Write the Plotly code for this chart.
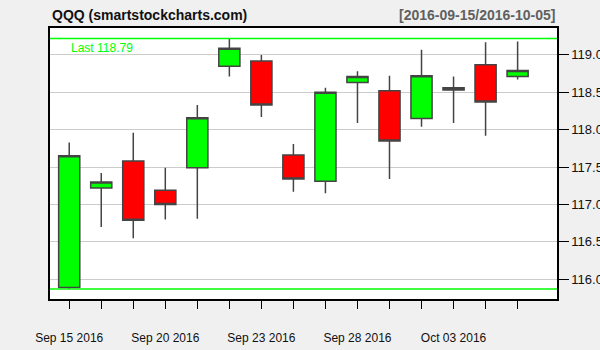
import plotly.graph_objects as go

dates = ["2016-09-15", "2016-09-16", "2016-09-19", "2016-09-20", "2016-09-21",
         "2016-09-22", "2016-09-23", "2016-09-26", "2016-09-27", "2016-09-28",
         "2016-09-29", "2016-09-30", "2016-10-03", "2016-10-04", "2016-10-05"]
open_ = [115.89, 117.22, 117.58, 117.19, 117.49, 118.85, 118.92, 117.66, 117.31, 118.63,
         118.52, 118.15, 118.53, 118.87, 118.71]
high = [117.83, 117.42, 117.96, 117.49, 118.33, 119.22, 119.00, 117.81, 118.56, 118.78,
        118.72, 119.07, 118.71, 119.17, 119.18]
low = [115.87, 116.70, 116.55, 116.80, 116.81, 118.71, 118.17, 117.17, 117.15, 118.09,
       117.34, 118.04, 118.09, 117.92, 118.67]
close = [117.65, 117.30, 116.79, 117.00, 118.16, 119.09, 118.33, 117.34, 118.50, 118.71,
         117.85, 118.72, 118.56, 118.37, 118.79]
tick_labels = ["Sep 15 2016", "", "", "Sep 20 2016", "", "", "Sep 23 2016", "", "",
               "Sep 28 2016", "", "", "Oct 03 2016", "", ""]
y_ticks = [116.0, 116.5, 117.0, 117.5, 118.0, 118.5, 119.0]

title_left = "QQQ (smartstockcharts.com)"
title_right = "[2016-09-15/2016-10-05]"

xs = list(range(len(dates)))
FONT = "Liberation Sans, Arial, sans-serif"

fig = go.Figure()
fig.add_trace(go.Candlestick(
    x=xs, open=open_, high=high, low=low, close=close,
    increasing=dict(fillcolor="#00FF00", line=dict(color="#444444", width=1.5)),
    decreasing=dict(fillcolor="#FF0000", line=dict(color="#444444", width=1.5)),
    whiskerwidth=0, showlegend=False, hoverinfo="skip",
))

hi_line = max(high)
lo_line = min(low)
for yv in (hi_line, lo_line):
    fig.add_shape(type="line", xref="paper", x0=0, x1=1, yref="y", y0=yv, y1=yv,
                  line=dict(color="#00FF00", width=1.5), layer="above")

fig.add_annotation(xref="paper", x=0.037, yref="y", y=hi_line, yshift=-1,
                   xanchor="left", yanchor="top", showarrow=False,
                   text=f"Last {close[-1]:.2f}",
                   font=dict(family=FONT, size=12, color="#00FF00"))

fig.add_annotation(xref="paper", x=0, yref="paper", y=1.048, xanchor="left",
                   yanchor="middle", showarrow=False, text=f"<b>{title_left}</b>",
                   font=dict(family=FONT, size=14, color="#111111"))
fig.add_annotation(xref="paper", x=1, yref="paper", y=1.048, xanchor="right",
                   yanchor="middle", showarrow=False, text=f"<b>{title_right}</b>",
                   font=dict(family=FONT, size=14, color="#606060"))

fig.update_layout(
    width=600, height=350,
    margin=dict(l=50, r=43, t=28, b=51),
    paper_bgcolor="#F0F0F0", plot_bgcolor="#FFFFFF",
    boxgap=0.34, boxgroupgap=0,
    font=dict(family=FONT, size=13, color="#111111"),
    xaxis=dict(
        range=[-0.6, 15.23], tickmode="array", tickvals=xs, ticktext=tick_labels,
        ticks="outside", ticklen=8, tickcolor="#000000", tickwidth=1.2,
        showgrid=False, zeroline=False, showline=True, linecolor="#000000",
        linewidth=1.5, mirror=True, rangeslider=dict(visible=False),
        tickfont=dict(size=12), ticklabelstandoff=19, automargin=False,
    ),
    yaxis=dict(
        range=[115.736, 119.36], side="right", tickmode="array", tickvals=y_ticks,
        tickformat=".1f", ticks="outside", ticklen=10, tickcolor="#000000",
        tickwidth=1.2, showgrid=True, gridcolor="#CCCCCC", gridwidth=1,
        zeroline=False, showline=True, linecolor="#000000", linewidth=1.5,
        mirror=True, tickfont=dict(size=13), automargin=False,
    ),
)

fig.write_html("out.html")
